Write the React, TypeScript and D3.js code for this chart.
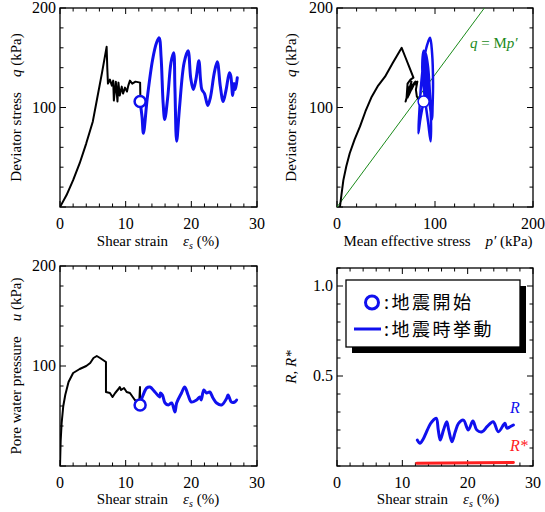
import React from "react";
import * as d3 from "d3";

// ---- data ----
// q vs shear strain (%), monotonic stage
const qStrainBlack: [number, number][] = [
  [0, 0], [1, 12], [2, 27], [3, 44], [4, 64], [5, 86], [5.6, 107], [6.4, 135], [7.1, 161],
  [7.2, 140], [7.3, 124], [7.6, 128], [7.9, 122], [8.1, 127], [8.2, 107], [8.5, 126],
  [8.75, 106], [8.9, 125], [9.1, 112], [9.4, 121], [9.6, 114], [9.9, 120], [10.2, 116],
  [10.4, 122], [10.65, 127], [11, 124], [11.5, 126], [12.2, 125], [12.25, 106],
];
// q vs shear strain (%), seismic stage
const qStrainBlue: [number, number][] = [
  [12.2, 106], [12.5, 90], [12.7, 74], [13.3, 110], [14.1, 148], [14.7, 165], [15.1, 170],
  [15.4, 150], [15.7, 105], [15.95, 88], [16.4, 110], [16.9, 145], [17.3, 155], [17.5, 120],
  [17.76, 66], [18.2, 100], [18.9, 145], [19.5, 157], [19.9, 130], [20.3, 118], [20.7, 128],
  [21.15, 147], [21.4, 128], [21.6, 118], [22.0, 114], [22.5, 102], [22.9, 110], [23.5, 135],
  [23.95, 146], [24.4, 122], [24.85, 106], [25.3, 118], [25.8, 135], [26.0, 132], [26.3, 112],
  [26.5, 124], [26.7, 118], [27.0, 130],
];
// q vs mean effective stress p' (kPa), monotonic stage
const qPBlack: [number, number][] = [
  [3, 0], [4.5, 12], [6.5, 27], [9.5, 41], [13, 54], [18, 68], [23.5, 81], [29, 96], [35, 110],
  [42, 122], [49, 131], [57, 145], [66, 160], [70, 150], [74, 140], [78, 130], [75, 128],
  [72, 124], [71, 110], [74, 121], [70, 106], [76, 126], [72, 110], [77, 123], [73, 112],
  [79, 125], [76, 118], [80, 126], [81, 122], [82, 126], [80.5, 118], [81.5, 111], [84, 107],
];
// q vs p', seismic stage
const qPBlue: [number, number][] = [
  [88.4, 106], [85, 88], [83, 74], [84, 95], [86, 125], [89, 150], [93, 166], [95, 170],
  [97, 155], [98, 125], [97.5, 100], [97, 88], [95, 100], [92, 125], [90, 148], [90.5, 155],
  [93, 140], [95, 110], [96, 80], [95.5, 66], [93, 85], [89, 115], [87, 140], [88.5, 157],
  [91, 140], [91, 118], [89, 132], [88, 147], [90, 130], [91, 118], [92, 102], [89, 125],
  [87.5, 146], [90, 125], [90.5, 106], [88, 125], [87.5, 134], [89, 118], [89.5, 112],
  [88, 125], [88, 130],
];
// pore water pressure u (kPa) vs shear strain (%)
const uStrainBlack: [number, number][] = [
  [0, 0], [0.1, 25], [0.25, 43], [0.5, 60], [0.8, 71], [1.3, 84], [2.0, 93], [3.0, 97],
  [4.0, 100], [4.6, 103], [5.1, 108], [5.6, 110], [6.1, 108], [7.0, 104], [7.0, 74],
  [7.6, 73], [8.0, 69], [8.4, 73], [8.9, 77], [9.1, 79], [9.3, 76], [9.75, 78], [10.15, 74],
  [10.65, 73], [11.4, 66], [12.07, 64], [12.18, 79], [12.2, 64],
];
const uStrainBlue: [number, number][] = [
  [12.1, 61], [12.6, 70], [13.2, 78], [13.7, 79], [14.46, 74], [15.2, 69], [15.3, 73],
  [15.6, 71], [16.0, 63], [16.5, 61], [17.0, 63], [17.5, 54], [17.76, 63], [18.5, 73],
  [19.0, 79], [19.5, 71], [20.0, 64], [20.8, 66], [21.3, 69], [21.5, 66], [21.9, 76],
  [22.3, 73], [22.8, 74], [23.3, 68], [23.85, 63], [24.6, 61], [25.4, 68], [25.6, 71],
  [26.1, 64], [26.6, 64], [26.9, 66],
];
// R and R* vs shear strain (%)
const rStrain: [number, number][] = [
  [12.3, 0.144], [12.7, 0.126], [13.2, 0.15], [13.7, 0.19], [14.3, 0.235], [14.75, 0.255],
  [15.2, 0.265], [15.5, 0.2], [15.8, 0.144], [16.3, 0.2], [16.8, 0.246], [17.1, 0.2],
  [17.6, 0.135], [18.1, 0.19], [18.6, 0.237], [19.35, 0.255], [20.1, 0.2], [20.8, 0.25],
  [21.4, 0.2], [22.2, 0.19], [23.0, 0.22], [23.9, 0.246], [24.7, 0.19], [25.7, 0.237],
  [26.0, 0.21], [26.5, 0.218], [27.0, 0.228],
];
const rStarStrain: [number, number][] = [[12.2, 0.015], [27.0, 0.02]];

// onset of the earthquake
const onsetStrain = 12.2;
const onsetQ = 106;
const onsetP = 88.4;
const onsetU = 61;

const criticalM = 1.33;

const strainTicks = [0, 10, 20, 30];
const stressTicks = [0, 100, 200];
const ratioTicks = [0.5, 1.0];

const serif = "'Liberation Serif', 'Times New Roman', serif";
const cjk = "'Noto Sans CJK JP', 'Noto Sans', sans-serif";

type Box = { x0: number; x1: number; y0: number; y1: number };

function Frame({
  box, x, y, xMinor, yMinor, xMajor, yMajor, xLabels, yLabels, fmtY,
}: {
  box: Box; x: d3.ScaleLinear<number, number>; y: d3.ScaleLinear<number, number>;
  xMinor: number[]; yMinor: number[]; xMajor: number[]; yMajor: number[];
  xLabels: number[]; yLabels: number[]; fmtY?: (v: number) => string;
}) {
  const ticks: JSX.Element[] = [];
  const major = 6, minor = 3.5;
  xMinor.forEach((v, i) => {
    const L = xMajor.includes(v) ? major : minor;
    const px = x(v);
    ticks.push(<line key={"xb" + i} x1={px} x2={px} y1={box.y1} y2={box.y1 - L} />);
    ticks.push(<line key={"xt" + i} x1={px} x2={px} y1={box.y0} y2={box.y0 + L} />);
  });
  yMinor.forEach((v, i) => {
    const L = yMajor.includes(v) ? major : minor;
    const py = y(v);
    ticks.push(<line key={"yl" + i} x1={box.x0} x2={box.x0 + L} y1={py} y2={py} />);
    ticks.push(<line key={"yr" + i} x1={box.x1} x2={box.x1 - L} y1={py} y2={py} />);
  });
  return (
    <g>
      <g stroke="#000" strokeWidth={1}>{ticks}</g>
      <rect x={box.x0} y={box.y0} width={box.x1 - box.x0} height={box.y1 - box.y0}
        fill="none" stroke="#000" strokeWidth={1.3} />
      <g fontFamily={serif} fontSize={16} fill="#000">
        {xLabels.map((v) => (
          <text key={"xl" + v} x={x(v)} y={box.y1 + 22} textAnchor="middle">{v}</text>
        ))}
        {yLabels.map((v) => (
          <text key={"yl" + v} x={box.x0 - 4} y={y(v) + 5} textAnchor="end">
            {fmtY ? fmtY(v) : v}
          </text>
        ))}
      </g>
    </g>
  );
}

function StrainLabel({ cx, y }: { cx: number; y: number }) {
  return (
    <text x={cx} y={y} textAnchor="middle" fontFamily={serif} fontSize={15}>
      Shear strain{"\u2003"}
      <tspan fontStyle="italic">ε</tspan>
      <tspan fontStyle="italic" fontSize={10} dy={3}>s</tspan>
      <tspan dy={-3}> (%)</tspan>
    </text>
  );
}

export default function App() {
  const boxes: Record<string, Box> = {
    a: { x0: 60, x1: 257, y0: 8, y1: 207 },
    b: { x0: 337, x1: 533, y0: 8, y1: 207 },
    c: { x0: 60, x1: 257, y0: 266, y1: 466 },
    d: { x0: 337, x1: 533, y0: 268, y1: 466 },
  };
  const xa = d3.scaleLinear().domain([0, 30]).range([boxes.a.x0, boxes.a.x1]);
  const ya = d3.scaleLinear().domain([0, 200]).range([boxes.a.y1, boxes.a.y0]);
  const xb = d3.scaleLinear().domain([0, 200]).range([boxes.b.x0, boxes.b.x1]);
  const yb = d3.scaleLinear().domain([0, 200]).range([boxes.b.y1, boxes.b.y0]);
  const xc = d3.scaleLinear().domain([0, 30]).range([boxes.c.x0, boxes.c.x1]);
  const yc = d3.scaleLinear().domain([0, 200]).range([boxes.c.y1, boxes.c.y0]);
  const xd = d3.scaleLinear().domain([0, 30]).range([boxes.d.x0, boxes.d.x1]);
  const yd = d3.scaleLinear().domain([0, 1.1]).range([boxes.d.y1, boxes.d.y0]);

  const lineOf = (x: d3.ScaleLinear<number, number>, y: d3.ScaleLinear<number, number>) =>
    d3.line<[number, number]>().x((d) => x(d[0])).y((d) => y(d[1]));
  const smoothOf = (x: d3.ScaleLinear<number, number>, y: d3.ScaleLinear<number, number>) =>
    d3.line<[number, number]>().x((d) => x(d[0])).y((d) => y(d[1])).curve(d3.curveCatmullRom.alpha(0.5));

  const strainMinor = d3.range(0, 30.001, 2);
  const stressMinor = d3.range(0, 200.001, 20);
  const ratioMinor = d3.range(0, 1.1001, 0.1).map((v) => +v.toFixed(1));

  const blue = "#1010ee";
  const green = "#1a8a1a";
  const red = "#ff2020";

  // critical state line clipped to the plot box
  const cslEnd = Math.min(200 / criticalM, 200);

  return (
    <svg width={545} height={512} style={{ position: "absolute", left: 0, top: 0 }}
      xmlns="http://www.w3.org/2000/svg">
      <rect width={545} height={512} fill="#fff" />
      <defs>
        {Object.entries(boxes).map(([k, b]) => (
          <clipPath id={"clip-" + k} key={k}>
            <rect x={b.x0} y={b.y0} width={b.x1 - b.x0} height={b.y1 - b.y0} />
          </clipPath>
        ))}
      </defs>

      {/* (a) q - shear strain */}
      <Frame box={boxes.a} x={xa} y={ya} xMinor={strainMinor} yMinor={stressMinor}
        xMajor={strainTicks} yMajor={stressTicks} xLabels={strainTicks} yLabels={[100, 200]} />
      <g clipPath="url(#clip-a)" fill="none" strokeLinejoin="round" strokeLinecap="round">
        <path d={lineOf(xa, ya)(qStrainBlack) || ""} stroke="#000" strokeWidth={2} />
        <path d={smoothOf(xa, ya)(qStrainBlue) || ""} stroke={blue} strokeWidth={3} />
      </g>
      <circle cx={xa(onsetStrain)} cy={ya(onsetQ)} r={5.5} fill="#fff" stroke={blue} strokeWidth={2.5} />
      <text transform={`translate(21,${(boxes.a.y0 + boxes.a.y1) / 2}) rotate(-90)`}
        textAnchor="middle" fontFamily={serif} fontSize={15}>
        Deviator stress{"\u2003"}<tspan fontStyle="italic">q</tspan> (kPa)
      </text>
      <StrainLabel cx={158} y={246} />

      {/* (b) q - p' */}
      <Frame box={boxes.b} x={xb} y={yb} xMinor={stressMinor} yMinor={stressMinor}
        xMajor={stressTicks} yMajor={stressTicks} xLabels={stressTicks} yLabels={[100, 200]} />
      <g clipPath="url(#clip-b)" fill="none" strokeLinejoin="round" strokeLinecap="round">
        <line x1={xb(0)} y1={yb(0)} x2={xb(cslEnd)} y2={yb(criticalM * cslEnd)}
          stroke={green} strokeWidth={1} />
        <path d={lineOf(xb, yb)(qPBlack) || ""} stroke="#000" strokeWidth={2} />
        <path d={smoothOf(xb, yb)(qPBlue) || ""} stroke={blue} strokeWidth={2.5} />
      </g>
      <circle cx={xb(onsetP)} cy={yb(onsetQ)} r={5.5} fill="#fff" stroke={blue} strokeWidth={1.5} />
      <text x={470} y={48} fontFamily={serif} fontSize={15} fill={green}>
        <tspan fontStyle="italic">q</tspan> = M<tspan fontStyle="italic">p′</tspan>
      </text>
      <text transform={`translate(296,${(boxes.b.y0 + boxes.b.y1) / 2}) rotate(-90)`}
        textAnchor="middle" fontFamily={serif} fontSize={15}>
        Deviator stress{"\u2003"}<tspan fontStyle="italic">q</tspan> (kPa)
      </text>
      <text x={438} y={246} textAnchor="middle" fontFamily={serif} fontSize={15}>
        Mean effective stress{"\u2003"}<tspan fontStyle="italic">p′</tspan> (kPa)
      </text>

      {/* (c) u - shear strain */}
      <Frame box={boxes.c} x={xc} y={yc} xMinor={strainMinor} yMinor={stressMinor}
        xMajor={strainTicks} yMajor={stressTicks} xLabels={strainTicks} yLabels={[100, 200]} />
      <g clipPath="url(#clip-c)" fill="none" strokeLinejoin="round" strokeLinecap="round">
        <path d={lineOf(xc, yc)(uStrainBlack) || ""} stroke="#000" strokeWidth={2} />
        <path d={smoothOf(xc, yc)(uStrainBlue) || ""} stroke={blue} strokeWidth={3} />
      </g>
      <circle cx={xc(onsetStrain)} cy={yc(onsetU)} r={5.5} fill="#fff" stroke={blue} strokeWidth={2.5} />
      <text transform={`translate(21,${(boxes.c.y0 + boxes.c.y1) / 2}) rotate(-90)`}
        textAnchor="middle" fontFamily={serif} fontSize={15}>
        Pore water pressure{"\u2003"}<tspan fontStyle="italic">u</tspan> (kPa)
      </text>
      <StrainLabel cx={158} y={504} />

      {/* (d) R, R* - shear strain */}
      <Frame box={boxes.d} x={xd} y={yd} xMinor={strainMinor} yMinor={ratioMinor}
        xMajor={strainTicks} yMajor={ratioTicks} xLabels={strainTicks} yLabels={ratioTicks}
        fmtY={(v) => v.toFixed(1)} />
      <g clipPath="url(#clip-d)" fill="none" strokeLinejoin="round" strokeLinecap="round">
        <path d={smoothOf(xd, yd)(rStrain) || ""} stroke={blue} strokeWidth={3} />
        <path d={lineOf(xd, yd)(rStarStrain) || ""} stroke={red} strokeWidth={3} />
      </g>
      <text x={510} y={413} fontFamily={serif} fontSize={16} fontStyle="italic" fill={blue}>R</text>
      <text x={510} y={451} fontFamily={serif} fontSize={16} fontStyle="italic" fill={red}>R*</text>
      <text transform={`translate(296,${(boxes.d.y0 + boxes.d.y1) / 2}) rotate(-90)`}
        textAnchor="middle" fontFamily={serif} fontSize={15} fontStyle="italic">
        R, R*
      </text>
      <StrainLabel cx={438} y={504} />

      {/* legend */}
      <g>
        <rect x={352} y={286} width={174} height={67} fill="#000" />
        <rect x={346} y={280} width={174} height={67} fill="#fff" stroke="#000" strokeWidth={1.3} />
        <circle cx={372} cy={302.5} r={6.5} fill="none" stroke={blue} strokeWidth={3} />
        <text x={384} y={309} fontFamily={cjk} fontSize={18} letterSpacing={2.5}>:地震開始</text>
        <line x1={354} x2={381} y1={329} y2={329} stroke={blue} strokeWidth={3} />
        <text x={384} y={336} fontFamily={cjk} fontSize={18} letterSpacing={2.5}>:地震時挙動</text>
      </g>
    </svg>
  );
}
